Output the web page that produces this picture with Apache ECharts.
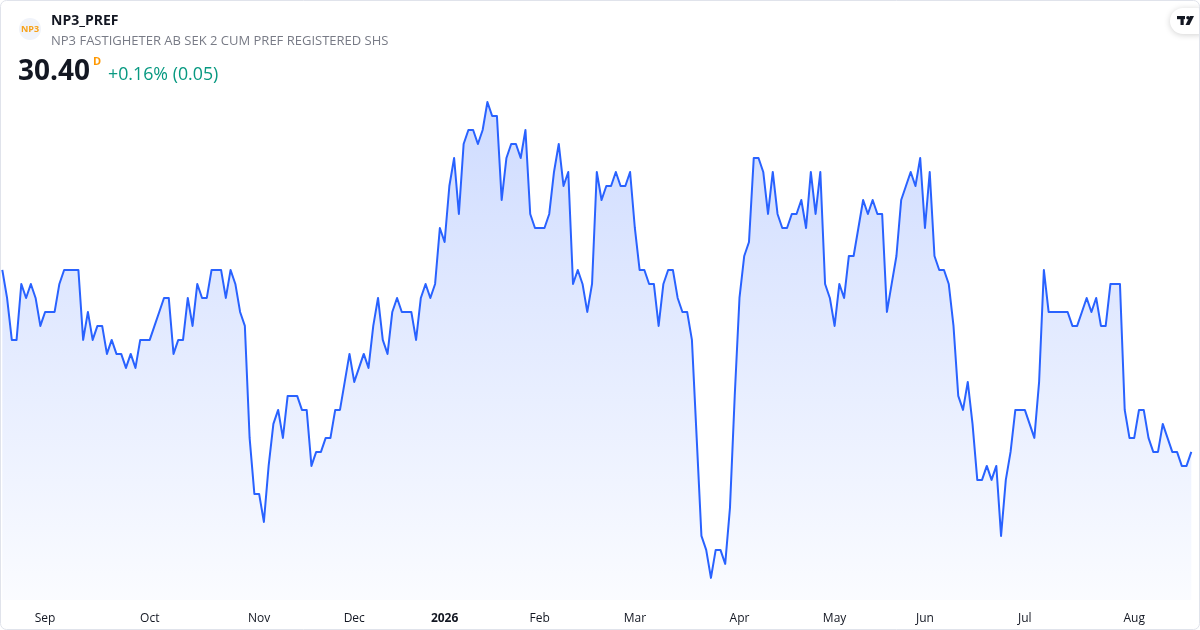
<!DOCTYPE html>
<html>
<head>
<meta charset="utf-8">
<script src="https://cdn.jsdelivr.net/npm/echarts@6/dist/echarts.min.js"></script>
<style>
  html, body { margin: 0; padding: 0; background: #ffffff; }
  #chart { width: 1200px; height: 630px; }
</style>
</head>
<body>
<div id="chart"></div>
<script>
// Daily closing prices (SEK), one per trading day
const prices = [
  31.05, 30.95, 30.80, 30.80, 31.00, 30.95, 31.00, 30.95, 30.85, 30.90,
  30.90, 30.90, 31.00, 31.05, 31.05, 31.05, 31.05, 30.80, 30.90, 30.80,
  30.85, 30.85, 30.75, 30.80, 30.75, 30.75, 30.70, 30.75, 30.70, 30.80,
  30.80, 30.80, 30.85, 30.90, 30.95, 30.95, 30.75, 30.80, 30.80, 30.95,
  30.85, 31.00, 30.95, 30.95, 31.05, 31.05, 31.05, 30.95, 31.05, 31.00,
  30.90, 30.85, 30.45, 30.25, 30.25, 30.15, 30.35, 30.50, 30.55, 30.45,
  30.60, 30.60, 30.60, 30.55, 30.55, 30.35, 30.40, 30.40, 30.45, 30.45,
  30.55, 30.55, 30.65, 30.75, 30.65, 30.70, 30.75, 30.70, 30.85, 30.95,
  30.80, 30.75, 30.90, 30.95, 30.90, 30.90, 30.90, 30.80, 30.95, 31.00,
  30.95, 31.00, 31.20, 31.15, 31.35, 31.45, 31.25, 31.50, 31.55, 31.55,
  31.50, 31.55, 31.65, 31.60, 31.60, 31.30, 31.45, 31.50, 31.50, 31.45,
  31.55, 31.25, 31.20, 31.20, 31.20, 31.25, 31.40, 31.50, 31.35, 31.40,
  31.00, 31.05, 31.00, 30.90, 31.00, 31.40, 31.30, 31.35, 31.35, 31.40,
  31.35, 31.35, 31.40, 31.20, 31.05, 31.05, 31.00, 31.00, 30.85, 31.00,
  31.05, 31.05, 30.95, 30.90, 30.90, 30.80, 30.45, 30.10, 30.05, 29.95,
  30.05, 30.05, 30.00, 30.20, 30.60, 30.95, 31.10, 31.15, 31.45, 31.45,
  31.40, 31.25, 31.40, 31.25, 31.20, 31.20, 31.25, 31.25, 31.30, 31.20,
  31.40, 31.25, 31.40, 31.00, 30.95, 30.85, 31.00, 30.95, 31.10, 31.10,
  31.20, 31.30, 31.25, 31.30, 31.25, 31.25, 30.90, 31.00, 31.10, 31.30,
  31.35, 31.40, 31.35, 31.45, 31.20, 31.40, 31.10, 31.05, 31.05, 31.00,
  30.85, 30.60, 30.55, 30.65, 30.50, 30.30, 30.30, 30.35, 30.30, 30.35,
  30.10, 30.30, 30.40, 30.55, 30.55, 30.55, 30.50, 30.45, 30.65, 31.05,
  30.90, 30.90, 30.90, 30.90, 30.90, 30.85, 30.85, 30.90, 30.95, 30.90,
  30.95, 30.85, 30.85, 31.00, 31.00, 31.00, 30.55, 30.45, 30.45, 30.55,
  30.55, 30.45, 30.40, 30.40, 30.50, 30.45, 30.40, 30.40, 30.35, 30.35,
  30.40
];

// Trading-day index of the first session of each month, and its label
const monthTickIndex = [9, 31, 54, 74, 93, 113, 133, 155, 175, 194, 215, 238];
const monthLabels = ['Sep', 'Oct', 'Nov', 'Dec', '2026', 'Feb', 'Mar', 'Apr', 'May', 'Jun', 'Jul', 'Aug'];
const boldLabels = ['2026'];

const symbol = 'NP3_PREF';
const fullName = 'NP3 FASTIGHETER AB SEK 2 CUM PREF REGISTERED SHS';
const lastPrice = '30.40';
const changeText = '+0.16% (0.05)';

const categories = prices.map((_, i) => String(i));
const FONT = '"Open Sans", "Noto Sans", sans-serif';

const chart = echarts.init(document.getElementById('chart'), null, { renderer: 'canvas' });

chart.setOption({
  animation: false,
  backgroundColor: '#ffffff',
  grid: { left: 2.3, right: 8.7, top: 88, bottom: 30, containLabel: false },
  xAxis: {
    type: 'category',
    data: categories,
    boundaryGap: false,
    axisLine: { show: false },
    axisTick: { show: false },
    splitLine: { show: false },
    axisLabel: {
      margin: 13,
      fontFamily: FONT,
      fontSize: 12,
      color: '#131722',
      interval: (index) => monthTickIndex.indexOf(index) >= 0,
      formatter: (value, index) => {
        const k = monthTickIndex.indexOf(Number(value));
        if (k < 0) return '';
        const t = monthLabels[k];
        return boldLabels.indexOf(t) >= 0 ? '{b|' + t + '}' : t;
      },
      rich: { b: { fontWeight: 'bold', fontFamily: FONT, fontSize: 12, color: '#131722' } }
    }
  },
  yAxis: {
    type: 'value',
    min: 29.871,
    max: 31.70,
    show: false,
    splitLine: { show: false }
  },
  series: [{
    type: 'line',
    data: prices,
    showSymbol: false,
    symbol: 'none',
    lineStyle: { color: '#2962FF', width: 2, join: 'round' },
    areaStyle: {
      origin: 'start',
      color: new echarts.graphic.LinearGradient(0, 0, 0, 1, [
        { offset: 0, color: 'rgba(41,98,255,0.32)' },
        { offset: 1, color: 'rgba(41,98,255,0.03)' }
      ])
    }
  }],
  graphic: [
    { type: 'rect', shape: { x: 0.5, y: 0.5, width: 1199, height: 629, r: 6 },
      style: { fill: 'none', stroke: '#e0e3eb', lineWidth: 1 }, z: 100 },
    { type: 'circle', shape: { cx: 30, cy: 29, r: 11 }, style: { fill: '#f0f3fa' } },
    { type: 'text', style: { x: 30, y: 29.5, text: 'NP3', fill: '#f7a21b', font: 'bold 9px ' + FONT, align: 'center', verticalAlign: 'middle' } },
    { type: 'text', style: { x: 51, y: 21, text: symbol, fill: '#131722', font: 'bold 14px ' + FONT, verticalAlign: 'middle' } },
    { type: 'text', style: { x: 51, y: 41, text: fullName, fill: '#787b86', font: '13px ' + FONT, verticalAlign: 'middle' } },
    { type: 'text', style: { x: 18, y: 72, text: lastPrice, fill: '#131722', font: 'bold 28px ' + FONT, verticalAlign: 'middle' } },
    { type: 'text', style: { x: 93, y: 62, text: 'D', fill: '#ff9800', font: 'bold 11px ' + FONT, verticalAlign: 'middle' } },
    { type: 'text', style: { x: 108, y: 75, text: changeText, fill: '#089981', font: '17.8px ' + FONT, verticalAlign: 'middle' } },
    // TradingView badge
    { type: 'rect', shape: { x: 1170, y: 8, width: 40, height: 26, r: 13 },
      style: { fill: '#ffffff', shadowBlur: 6, shadowColor: 'rgba(0,0,0,0.18)', shadowOffsetY: 1 } },
    { type: 'rect', shape: { x: 1177, y: 16, width: 8, height: 3.2 }, style: { fill: '#131722' } },
    { type: 'rect', shape: { x: 1180.5, y: 16, width: 3.2, height: 9 }, style: { fill: '#131722' } },
    { type: 'circle', shape: { cx: 1188, cy: 17.8, r: 1.8 }, style: { fill: '#131722' } },
    { type: 'polygon', shape: { points: [[1190, 16], [1194, 16], [1189.5, 25], [1185.5, 25]] }, style: { fill: '#131722' } }
  ]
});
</script>
</body>
</html>
